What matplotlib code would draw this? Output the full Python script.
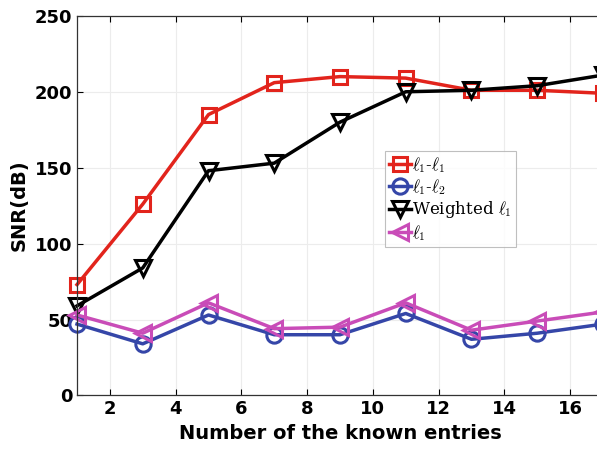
import matplotlib.pyplot as plt
import numpy as np

plt.rcParams['mathtext.fontset'] = 'cm'

known = [1, 3, 5, 7, 9, 11, 13, 15, 17]
snr_l1l1 = [73, 126, 185, 206, 210, 209, 201, 201, 199]
snr_l1l2 = [47, 34, 53, 40, 40, 54, 37, 41, 47]
snr_weighted = [59, 84, 148, 153, 180, 200, 201, 204, 211]
snr_l1 = [53, 41, 61, 44, 45, 61, 43, 49, 55]

fig = plt.figure(figsize=(5.97, 4.53), dpi=100)
ax = fig.add_axes([0.129, 0.127, 0.881, 0.838])

kw = dict(linewidth=2.5, markerfacecolor='none', markeredgewidth=2.2, clip_on=False)
ax.plot(known, snr_l1l1, '-s', color='#e2241c', markersize=10, label=r'$\ell_1$-$\ell_1$', **kw)
ax.plot(known, snr_l1l2, '-o', color='#3546a8', markersize=11, label=r'$\ell_1$-$\ell_2$', **kw)
ax.plot(known, snr_weighted, '-v', color='black', markersize=12, label=r'Weighted $\ell_1$', **kw)
ax.plot(known, snr_l1, '-<', color='#c94cb8', markersize=12, label=r'$\ell_1$', **kw)

ax.set_xlim(1, 17)
ax.set_ylim(0, 250)
ax.set_xticks(np.arange(2, 17, 2))
ax.set_yticks(np.arange(0, 251, 50))
ax.grid(True, color='#ececec', linewidth=0.8)
ax.set_axisbelow(True)
ax.tick_params(direction='in', length=4, width=0.8, labelsize=13, top=True, right=True)
for lbl in ax.get_xticklabels() + ax.get_yticklabels():
    lbl.set_fontweight('bold')
for s in ax.spines.values():
    s.set_color('#333333')
    s.set_linewidth(0.9)

ax.set_xlabel('Number of the known entries', fontsize=14, fontweight='bold')
ax.set_ylabel('SNR(dB)', fontsize=14, fontweight='bold')

leg = ax.legend(loc='upper left', bbox_to_anchor=(0.585, 0.645), fancybox=False,
                edgecolor='#b0b0b0', handlelength=1.3, handletextpad=0.1,
                borderpad=0.25, labelspacing=0.15, borderaxespad=0,
                prop={'family': 'DejaVu Serif', 'size': 12})
leg.get_frame().set_linewidth(0.8)

fig.savefig('out.png', dpi=100)
